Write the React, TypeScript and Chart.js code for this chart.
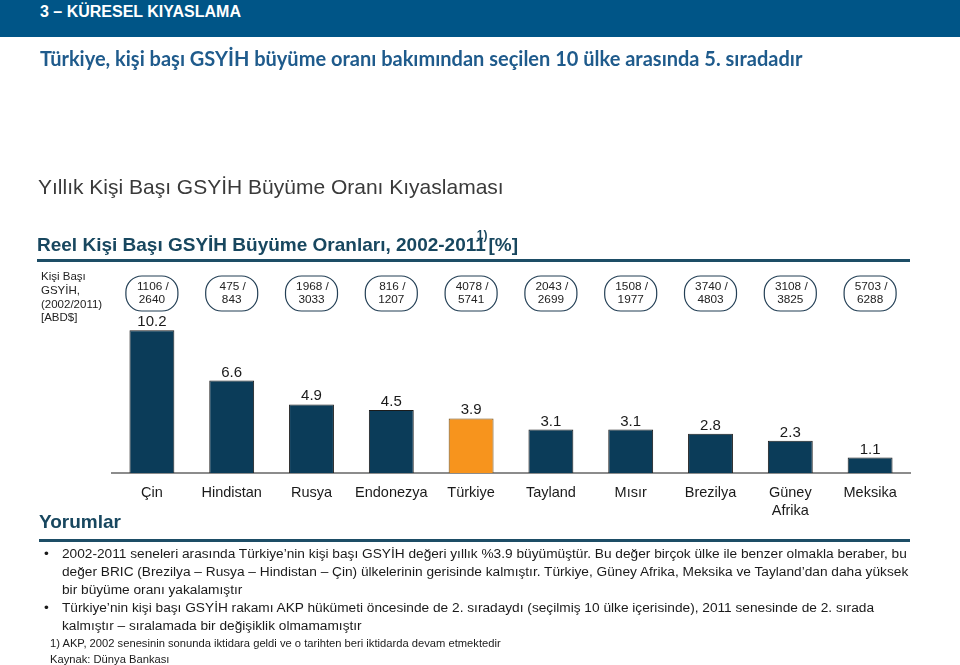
import React, { useEffect, useRef } from "react";
import { Chart, registerables } from "chart.js";

Chart.register(...registerables);

const countries: (string | string[])[] = [
  "Çin",
  "Hindistan",
  "Rusya",
  "Endonezya",
  "Türkiye",
  "Tayland",
  "Mısır",
  "Brezilya",
  ["Güney", "Afrika"],
  "Meksika",
];
const growthRates = [10.2, 6.6, 4.9, 4.5, 3.9, 3.1, 3.1, 2.8, 2.3, 1.1];
const gdp2002 = [1106, 475, 1968, 816, 4078, 2043, 1508, 3740, 3108, 5703];
const gdp2011 = [2640, 843, 3033, 1207, 5741, 2699, 1977, 4803, 3825, 6288];
const highlightCountry = "Türkiye";
const yMax = 14;

const FONT = '"Liberation Sans", Arial, sans-serif';
const NAVY = "#0b3c59";
const ORANGE = "#f7941d";
const TITLE_BLUE = "#18475f";

const labelsAndBubbles = {
  id: "labelsAndBubbles",
  afterDatasetsDraw(chart: any) {
    const ctx = chart.ctx;
    const meta = chart.getDatasetMeta(0);
    const xScale = chart.scales.x;
    ctx.save();
    // value labels above bars
    ctx.fillStyle = "#1a1a1a";
    ctx.font = `15px ${FONT}`;
    ctx.textAlign = "center";
    ctx.textBaseline = "alphabetic";
    meta.data.forEach((bar: any, i: number) => {
      ctx.fillText(String(growthRates[i]), bar.x, bar.y - 4);
    });
    // GDP bubbles
    for (let i = 0; i < countries.length; i++) {
      const x = xScale.getPixelForValue(i);
      const w = 52;
      const h = 35;
      const top = 276;
      ctx.beginPath();
      ctx.roundRect(x - w / 2, top, w, h, 16);
      ctx.strokeStyle = "#233f55";
      ctx.lineWidth = 1.2;
      ctx.stroke();
      ctx.fillStyle = "#222";
      ctx.font = `11.8px ${FONT}`;
      ctx.textBaseline = "middle";
      ctx.fillText(`${gdp2002[i]} /`, x + 1, 286.5);
      ctx.fillText(`${gdp2011[i]}`, x, 299.5);
    }
    ctx.restore();
  },
};

export default function App() {
  const canvasRef = useRef<HTMLCanvasElement | null>(null);

  useEffect(() => {
    if (!canvasRef.current) return;
    const chart = new Chart(canvasRef.current, {
      type: "bar",
      data: {
        labels: countries as any,
        datasets: [
          {
            data: growthRates,
            backgroundColor: countries.map((c) => (c === highlightCountry ? ORANGE : NAVY)),
            borderColor: countries.map((c) => (c === highlightCountry ? "#6b4a17" : "#1b1b1b")),
            borderWidth: 1,
            borderSkipped: "bottom",
            categoryPercentage: 1,
            barPercentage: 0.5625,
          },
        ],
      },
      options: {
        responsive: false,
        animation: false,
        layout: { padding: { left: 112, right: 50, top: 277, bottom: 0 } },
        plugins: {
          legend: { display: false },
          tooltip: { enabled: false },
          title: { display: false },
        },
        scales: {
          x: {
            grid: { display: false, drawTicks: false },
            border: { display: true, color: "#8c8c8c", width: 2 },
            ticks: {
              color: "#1a1a1a",
              font: { family: FONT, size: 14.5, lineHeight: 1.24 },
              padding: 11,
              autoSkip: false,
              maxRotation: 0,
            },
            afterFit(scale: any) {
              scale.height = 192;
            },
          },
          y: {
            display: false,
            min: 0,
            max: yMax,
          },
        },
      },
      plugins: [labelsAndBubbles],
    });
    return () => chart.destroy();
  }, []);

  const abs = (s: React.CSSProperties): React.CSSProperties => ({ position: "absolute", whiteSpace: "nowrap", margin: 0, ...s });

  return (
    <div style={{ position: "absolute", left: 0, top: 0, width: 960, height: 665, background: "#fff", overflow: "hidden", fontFamily: FONT }}>
      <canvas ref={canvasRef} width={960} height={665} style={{ position: "absolute", left: 0, top: 0, width: 960, height: 665 }} />
      <div style={abs({ left: 0, top: 0, width: 960, height: 37, background: "#005587" })} />
      <div style={abs({ left: 40, top: 3, lineHeight: "18px", fontSize: 16, fontWeight: 700, color: "#fff" })}>3 – KÜRESEL KIYASLAMA</div>
      <div style={abs({ left: 40, top: 46, lineHeight: "24px", fontSize: 20, fontWeight: 700, color: "#1f5b8c", fontFamily: 'Lato, "Open Sans", sans-serif' })}>
        Türkiye, kişi başı GSYİH büyüme oranı bakımından seçilen 10 ülke arasında 5. sıradadır
      </div>
      <div style={abs({ left: 38, top: 174, lineHeight: "26px", fontSize: 21, color: "#3a3a3a" })}>Yıllık Kişi Başı GSYİH Büyüme Oranı Kıyaslaması</div>
      <div style={abs({ left: 37, top: 233, lineHeight: "24px", fontSize: 19, fontWeight: 700, color: TITLE_BLUE })}>
        Reel Kişi Başı GSYİH Büyüme Oranları, 2002-2011
        <span style={{ position: "relative", top: -12, fontSize: 12, marginLeft: -9, marginRight: 1 }}>1)</span>
        [%]
      </div>
      <div style={abs({ left: 37, top: 259, width: 873, height: 3, background: "#1d4d66" })} />
      <div style={abs({ left: 41, top: 270, lineHeight: "13.8px", fontSize: 11.5, color: "#222" })}>
        Kişi Başı<br />GSYİH,<br />(2002/2011)<br />[ABD$]
      </div>
      <div style={abs({ left: 39, top: 510, lineHeight: "24px", fontSize: 19, fontWeight: 700, color: TITLE_BLUE })}>Yorumlar</div>
      <div style={abs({ left: 39, top: 539, width: 871, height: 3, background: "#1d4d66" })} />
      <div style={abs({ left: 44, top: 545, lineHeight: "18px", fontSize: 13.7, color: "#1a1a1a" })}>•</div>
      <div style={abs({ left: 62, top: 545, lineHeight: "18px", fontSize: 13.7, color: "#1a1a1a" })}>
        2002-2011 seneleri arasında Türkiye’nin kişi başı GSYİH değeri yıllık %3.9 büyümüştür. Bu değer birçok ülke ile benzer olmakla beraber, bu<br />
        değer BRIC (Brezilya – Rusya – Hindistan – Çin) ülkelerinin gerisinde kalmıştır. Türkiye, Güney Afrika, Meksika ve Tayland’dan daha yüksek<br />
        bir büyüme oranı yakalamıştır
      </div>
      <div style={abs({ left: 44, top: 599, lineHeight: "18px", fontSize: 13.7, color: "#1a1a1a" })}>•</div>
      <div style={abs({ left: 62, top: 599, lineHeight: "18px", fontSize: 13.7, color: "#1a1a1a" })}>
        Türkiye’nin kişi başı GSYİH rakamı AKP hükümeti öncesinde de 2. sıradaydı (seçilmiş 10 ülke içerisinde), 2011 senesinde de 2. sırada<br />
        kalmıştır – sıralamada bir değişiklik olmamamıştır
      </div>
      <div style={abs({ left: 50, top: 635, lineHeight: "16px", fontSize: 11.2, color: "#1a1a1a" })}>
        1) AKP, 2002 senesinin sonunda iktidara geldi ve o tarihten beri iktidarda devam etmektedir
      </div>
      <div style={abs({ left: 50, top: 651, lineHeight: "16px", fontSize: 11.2, color: "#1a1a1a" })}>Kaynak: Dünya Bankası</div>
    </div>
  );
}
